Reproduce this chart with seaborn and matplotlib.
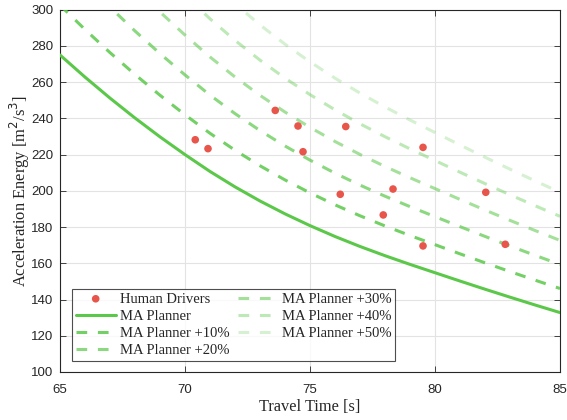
import matplotlib
matplotlib.use("Agg")
import matplotlib.pyplot as plt
import seaborn as sns
import pandas as pd
import numpy as np

# Data
travel_time = [65, 66, 67, 68, 69, 70, 71, 72, 73, 74, 75,
               76, 77, 78, 79, 80, 81, 82, 83, 84, 85]
planner_energy = [275.0, 262.8, 251.2, 240.2, 229.8, 220.0, 210.7, 202.2, 194.4, 187.3, 180.8,
                  174.8, 169.3, 164.2, 159.4, 154.8, 150.2, 145.7, 141.3, 137.0, 132.8]
margins = [0, 10, 20, 30, 40, 50]
curve_labels = ["MA Planner", "MA Planner +10%", "MA Planner +20%",
                "MA Planner +30%", "MA Planner +40%", "MA Planner +50%"]

human_time = [70.41, 70.92, 73.61, 74.52, 74.72, 76.43, 76.21,
              78.32, 77.93, 79.52, 79.52, 82.03, 82.81]
human_energy = [228.2, 223.3, 244.4, 235.8, 221.6, 235.5, 198.1,
                201.0, 186.7, 224.0, 169.6, 199.2, 170.5]

xticks = [65, 70, 75, 80, 85]
yticks = [100, 120, 140, 160, 180, 200, 220, 240, 260, 280, 300]

sns.set_style("whitegrid")
plt.rcParams["font.family"] = ["Liberation Sans", "DejaVu Sans"]

green = "#5BC84A"
red = "#E8554A"
alphas = [1.0, 0.85, 0.7, 0.55, 0.4, 0.25]

fig = plt.figure(figsize=(5.67, 4.2), dpi=100)
ax = fig.add_axes([0.1058, 0.1143, 0.8819, 0.8626])

human_df = pd.DataFrame({"t": human_time, "e": human_energy})
sns.scatterplot(data=human_df, x="t", y="e", ax=ax, color=red, s=30,
                edgecolor="none", label="Human Drivers", zorder=5)

base = np.array(planner_energy)
for m, lab, a in zip(margins, curve_labels, alphas):
    df = pd.DataFrame({"t": travel_time, "e": base * (1 + m / 100.0)})
    if m == 0:
        sns.lineplot(data=df, x="t", y="e", ax=ax, color=green, lw=2.2,
                     label=lab, zorder=3)
    else:
        sns.lineplot(data=df, x="t", y="e", ax=ax, color=green, lw=2.2,
                     alpha=a, dashes=False, label=lab, zorder=3)
        ax.lines[-1].set_dashes([3.5, 3.5])

ax.set_xlim(65, 85)
ax.set_ylim(100, 300)
ax.set_xticks(xticks)
ax.set_yticks(yticks)
ax.grid(True, color="#E3E3E3", lw=0.8)
for sp in ax.spines.values():
    sp.set_color("#262626")
    sp.set_linewidth(0.8)
ax.tick_params(axis="both", direction="in", length=4, width=0.6,
               colors="#262626", labelsize=9.5, top=True, right=True,
               left=True, bottom=True)
ax.tick_params(axis="x", pad=9)
ax.tick_params(axis="y", pad=4.8)

ax.set_xlabel("Travel Time [s]", family="Liberation Serif", fontsize=11.8,
              labelpad=1.5)
ax.set_ylabel("Acceleration Energy [m$^2$/s$^3$]", family="Liberation Serif",
              fontsize=11.9, labelpad=-0.5)

leg = ax.legend(loc="lower left", bbox_to_anchor=(0.024, 0.03), ncol=2,
                prop={"family": "Liberation Serif", "size": 10.5},
                frameon=True, fancybox=False, edgecolor="#222222",
                handlelength=2.75, handletextpad=0.27, columnspacing=0.6,
                labelspacing=0.28, borderpad=0.25, borderaxespad=0.0)
leg.get_frame().set_linewidth(0.8)

fig.savefig("out.png", dpi=100)
